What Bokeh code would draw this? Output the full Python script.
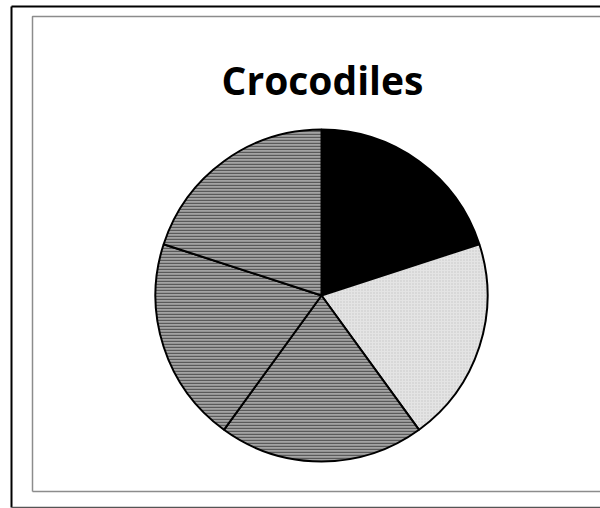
import math
from bokeh.plotting import figure
from bokeh.models import Range1d, ColumnDataSource
from bokeh.core.properties import value
from bokeh.embed import file_html
from bokeh.resources import INLINE

# ---- data ----
title_text = "Crocodiles"
categories = ["Slice 1", "Slice 2", "Slice 3", "Slice 4", "Slice 5"]
values = [20, 20, 20, 20, 20]

# ---- styles ----
fills = ["#000000", "#e4e4e4", "#a3a3a3", "#a3a3a3", "#a3a3a3"]
hatches = [" ", ".", "-", "-", "-"]
hatch_colors = ["#000000", "#c4c4c4", "#5a5a5a", "#5a5a5a", "#5a5a5a"]

W, H = 600, 508
# data coords: x = pixel x, y = -(pixel y)
p = figure(width=W, height=H, output_backend="svg", toolbar_location=None,
           x_range=Range1d(0, W), y_range=Range1d(-H, 0),
           min_border=0, min_border_left=0, min_border_right=0,
           min_border_top=0, min_border_bottom=0)
p.axis.visible = False
p.grid.visible = False
p.outline_line_color = None
p.background_fill_color = "white"
p.border_fill_color = "white"

# frames (outer black, inner gray)
p.line(x=[11, 11], y=[-6, -507], line_color="black", line_width=2)
p.line(x=[11, 600], y=[-6, -6], line_color="black", line_width=2)
p.line(x=[11, 600], y=[-507, -507], line_color="#555555", line_width=1.5)
p.line(x=[32, 32, 600], y=[-491, -16, -16], line_color="#8c8c8c", line_width=1.5)
p.line(x=[32, 600], y=[-491, -491], line_color="#8c8c8c", line_width=1.5)

# pie
cx, cy, r = 321, -295, 166
total = sum(values)
starts, ends = [], []
a = math.pi / 2
for v in values:
    b = a - 2 * math.pi * v / total
    # anticlockwise wedge from b to a (clockwise order of slices)
    starts.append(b)
    ends.append(a)
    a = b

src = ColumnDataSource(dict(cat=categories, val=values, start=starts, end=ends,
                            fill=fills, hatch=hatches, hcol=hatch_colors))
p.wedge(x=cx, y=cy, radius=r, start_angle="start", end_angle="end",
        direction="anticlock", source=src,
        fill_color="fill", hatch_pattern="hatch", hatch_color="hcol",
        hatch_scale=3, hatch_weight=1.4,
        line_color="black", line_width=2)

# title
p.text(x=[322], y=[-79], text=[title_text], text_align="center",
       text_baseline="alphabetic", text_font=value("Open Sans"),
       text_font_style="bold", text_font_size="39px", text_color="black")

open("out.html", "w").write(file_html(p, INLINE))
